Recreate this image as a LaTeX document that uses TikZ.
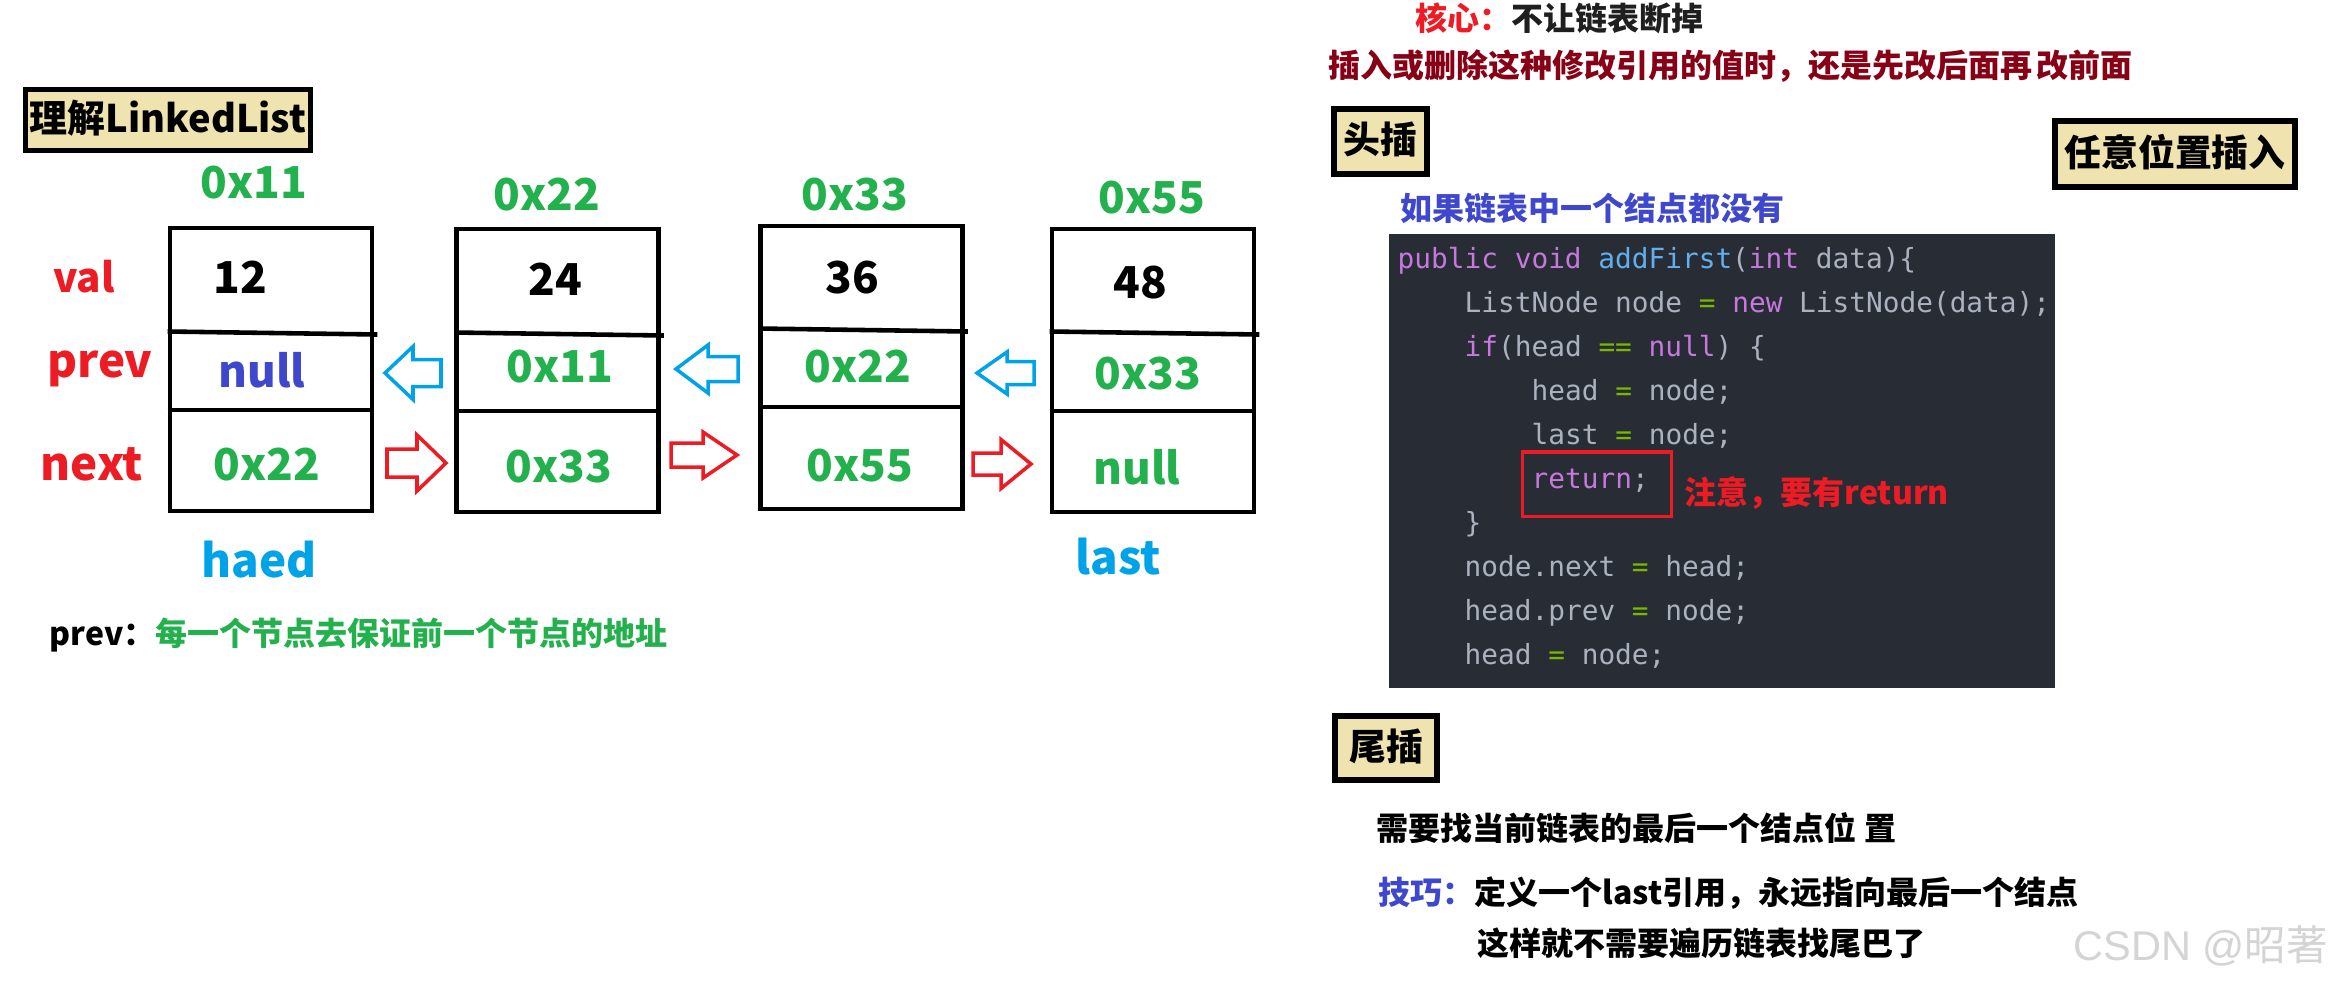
\documentclass[tikz,border=0pt]{standalone}
\usepackage{fontspec}
\setmainfont{Noto Sans CJK SC}
\newfontfamily\codefont{DejaVu Sans Mono}
\newfontfamily\wmfont{Liberation Sans}
\definecolor{pgreen}{HTML}{22B14C}
\definecolor{pred}{HTML}{ED1C24}
\definecolor{pblue}{HTML}{00A2E8}
\definecolor{pindigo}{HTML}{3F48CC}
\definecolor{pdarkred}{HTML}{880015}
\definecolor{pbeige}{HTML}{EFE4B0}
\definecolor{codebg}{HTML}{282C34}
\definecolor{codefg}{HTML}{ABB2BF}
\definecolor{codekw}{HTML}{C678DD}
\definecolor{codefn}{HTML}{61AFEF}
\definecolor{codeop}{HTML}{7AB800}
\definecolor{wmgray}{HTML}{D4D4D4}
\definecolor{darktext}{HTML}{1F1F1F}
\newcommand\ckw[1]{\textcolor{codekw}{#1}}
\newcommand\cfn[1]{\textcolor{codefn}{#1}}
\newcommand\cop[1]{\textcolor{codeop}{#1}}
% right-pointing block arrow: style, base x, center y, shaft length, head length, shaft half, head half
\newcommand\blkarrowR[7]{%
  \draw[#1] (#2-#4,#3-#6) -- (#2,#3-#6) -- (#2,#3-#7) -- (#2+#5,#3) -- (#2,#3+#7) -- (#2,#3+#6) -- (#2-#4,#3+#6) -- cycle;}
% left-pointing block arrow: style, base x, center y, head length, shaft length, shaft half, head half
\newcommand\blkarrowL[7]{%
  \draw[#1] (#2-#4,#3) -- (#2,#3-#7) -- (#2,#3-#6) -- (#2+#5,#3-#6) -- (#2+#5,#3+#6) -- (#2,#3+#6) -- (#2,#3+#7) -- cycle;}
\tikzset{
  every node/.style={inner sep=0pt},
  lbl/.style={font=\bfseries\fontsize{12.5}{15}\selectfont, anchor=base},
  rlbl/.style={font=\bfseries\fontsize{13}{15}\selectfont, anchor=base},
  txt/.style={font=\bfseries\fontsize{9.1}{11}\selectfont, anchor=west, text height=0.8em, text depth=0.1em},
  hdrbox/.style={draw, line width=1.7pt, fill=pbeige, font=\bfseries\fontsize{10.5}{12}\selectfont, text height=0.8em, text depth=0.1em},
  cellbox/.style={draw, line width=1.3pt, minimum width=2.02cm, minimum height=2.83cm},
  divider/.style={line width=1.3pt},
  codeline/.style={font=\codefont\fontsize{7.9}{9}\selectfont, anchor=base west, text=codefg},
  barrow/.style={draw=pblue, line width=1pt, line join=miter},
  rarrow/.style={draw=pred, line width=1pt, line join=miter},
}
\begin{document}
\begin{tikzpicture}[x=0.01cm, y=-0.01cm]
\useasboundingbox (0,0) rectangle (2333,987);
\fill[white] (0,0) rectangle (2333,987);

% ---------- left part ----------
\node[hdrbox, line width=1.5pt, minimum width=2.85cm, minimum height=0.61cm,
      font=\bfseries\fontsize{10.8}{12}\selectfont] (title) at (168,120) {理解LinkedList};

\node[lbl, text=pgreen] (a1) at (254,198) {0x11};
\node[lbl, text=pgreen] (a2) at (547,210) {0x22};
\node[lbl, text=pgreen] (a3) at (855,210) {0x33};
\node[lbl, text=pgreen] (a4) at (1152,213) {0x55};

\node[rlbl, text=pred, font=\bfseries\fontsize{11.5}{14}\selectfont] (lval) at (84,292) {val};
\node[rlbl, text=pred] (lprev) at (100,377) {prev};
\node[rlbl, text=pred] (lnext) at (92,480) {next};

\node[cellbox] (b1) at (271,369.5) {};
\node[cellbox] (b2) at (557.5,370.5) {};
\node[cellbox] (b3) at (861.5,367.5) {};
\node[cellbox] (b4) at (1153,370.5) {};

\draw[divider] (b1.west |- 0,331.5) -- ([xshift=0.03cm]b1.east |- 0,334.5);
\draw[divider] (b1.west |- 0,410) -- (b1.east |- 0,410);
\draw[divider] (b2.west |- 0,332.5) -- ([xshift=0.03cm]b2.east |- 0,335.5);
\draw[divider] (b2.west |- 0,411) -- (b2.east |- 0,411);
\draw[divider] (b3.west |- 0,328.5) -- ([xshift=0.03cm]b3.east |- 0,331.5);
\draw[divider] (b3.west |- 0,407) -- (b3.east |- 0,407);
\draw[divider] (b4.west |- 0,331.5) -- ([xshift=0.03cm]b4.east |- 0,334.5);
\draw[divider] (b4.west |- 0,411) -- (b4.east |- 0,411);

\node[lbl] (v1) at (240,293) {12};
\node[lbl] (v2) at (555,295) {24};
\node[lbl] (v3) at (852,293) {36};
\node[lbl] (v4) at (1140,298) {48};

\node[lbl, text=pindigo] (p1) at (262,387) {null};
\node[lbl, text=pgreen] (p2) at (560,382) {0x11};
\node[lbl, text=pgreen] (p3) at (858,382) {0x22};
\node[lbl, text=pgreen] (p4) at (1148,389) {0x33};

\node[lbl, text=pgreen] (n1) at (267,480) {0x22};
\node[lbl, text=pgreen] (n2) at (559,482) {0x33};
\node[lbl, text=pgreen] (n3) at (860,481) {0x55};
\node[lbl, text=pgreen] (n4) at (1137,484) {null};

\blkarrowL{barrow}{413}{373}{28}{28}{13.5}{26.5}
\blkarrowL{barrow}{708}{369}{32}{30}{12.5}{24}
\blkarrowL{barrow}{1007}{373}{30}{27}{11.5}{21}
\blkarrowR{rarrow}{417}{463}{30}{29}{14}{28}
\blkarrowR{rarrow}{703}{455}{32}{34}{12}{23}
\blkarrowR{rarrow}{1001}{464}{28}{30}{11}{24.5}

\node[rlbl, text=pblue] (haed) at (259,577) {haed};
\node[rlbl, text=pblue] (last) at (1118,574) {last};

\node[txt, text=pgreen] (note) at (49,633) {\textcolor{black}{prev：}每一个节点去保证前一个节点的地址};

% ---------- right part ----------
\node[txt, text=darktext] (core) at (1415,18) {\textcolor{pred}{核心：}不让链表断掉};
\node[txt, text=pdarkred] (rule) at (1328,65) {插入或删除这种修改引用的值时，还是先改后面再\hspace{0.12em}改前面};

\node[hdrbox, minimum width=0.935cm, minimum height=0.655cm] (head) at (1380.5,141.5) {头插};
\node[hdrbox, minimum width=2.405cm, minimum height=0.665cm] (anypos) at (2175,154) {任意位置插入};

\node[txt, text=pindigo] (empty) at (1400,208) {如果链表中一个结点都没有};

\node[fill=codebg, minimum width=6.66cm, minimum height=4.54cm] (code) at (1722,461) {};
\node[codeline] (c1) at (1397,268) {\ckw{public} \ckw{void} \cfn{addFirst}(\ckw{int} data)\{};
\node[codeline] (c2) at (1464,312.1) {ListNode node \cop{=} \ckw{new} ListNode(data);};
\node[codeline] (c3) at (1464,356.2) {\ckw{if}(head \cop{==} \ckw{null}) \{};
\node[codeline] (c4) at (1531,400.3) {head \cop{=} node;};
\node[codeline] (c5) at (1531,444.4) {last \cop{=} node;};
\node[codeline] (c6) at (1531,488.5) {\ckw{return};};
\node[codeline] (c7) at (1464,532.6) {\}};
\node[codeline] (c8) at (1464,576.7) {node.next \cop{=} head;};
\node[codeline] (c9) at (1464,620.8) {head.prev \cop{=} node;};
\node[codeline] (c10) at (1464,664.9) {head \cop{=} node;};

\node[draw=pred, line width=1pt, minimum width=1.485cm, minimum height=0.645cm] (retbox) at (1597,484) {};
\node[txt, text=pred] (attn) at (1684,492) {注意，要有return};

\node[hdrbox, minimum width=1.025cm, minimum height=0.645cm] (tail) at (1386,748) {尾插};

\node[txt] (need) at (1376,828) {需要找当前链表的最后一个结点位 置};
\node[txt] (tip) at (1378,892) {\textcolor{pindigo}{技巧：}定义一个last引用，永远指向最后一个结点};
\node[txt] (tip2) at (1477,943) {这样就不需要遍历链表找尾巴了};

\node[anchor=west, text=wmgray, font=\fontsize{11.8}{14}\selectfont, text height=0.8em, text depth=0.1em] (wm) at (2073,948) {{\wmfont CSDN @}昭著};
\end{tikzpicture}
\end{document}
